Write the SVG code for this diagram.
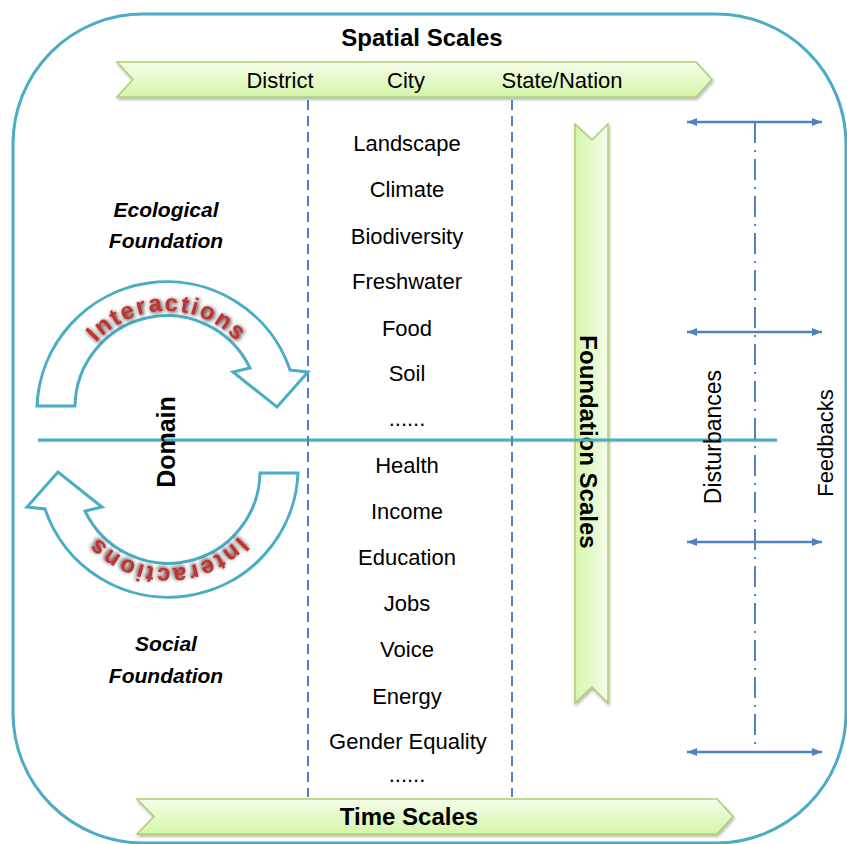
<svg xmlns="http://www.w3.org/2000/svg" xmlns:xlink="http://www.w3.org/1999/xlink" width="847" height="844" viewBox="0 0 847 844">
<style>
  .lbl { font-family: "Liberation Sans", Arial, sans-serif; fill: #000; }
  .item { font-size: 22px; text-anchor: middle; }
  .scale { font-size: 22px; text-anchor: middle; }
  .title { font-size: 24px; font-weight: bold; text-anchor: middle; }
  .found { font-size: 21px; font-weight: bold; font-style: italic; text-anchor: middle; }
  .rib { stroke: #a9cf72; stroke-width: 1.5; stroke-linejoin: miter; }
  .vdash { stroke: #4f81bd; stroke-width: 2; stroke-dasharray: 10 6; fill: none; }
  .dblarrow { stroke: #4f81bd; stroke-width: 2.5; marker-start: url(#ah); marker-end: url(#ah); }
  .curve { fill: #fff; stroke: #4bacc6; stroke-width: 3; stroke-linejoin: miter; }
  .inter { font-family: "Liberation Sans", Arial, sans-serif; font-size: 24px; font-weight: bold; fill: #c0302f; letter-spacing: 2px; }
</style>
<defs>
  <linearGradient id="gH" x1="0" y1="0" x2="0" y2="1">
    <stop offset="0" stop-color="#f4fdea"/>
    <stop offset="1" stop-color="#d6f5a9"/>
  </linearGradient>
  <linearGradient id="gV" x1="0" y1="0" x2="1" y2="0">
    <stop offset="0" stop-color="#d6f5a9"/>
    <stop offset="1" stop-color="#f4fdea"/>
  </linearGradient>
  <filter id="shd" x="-10%" y="-20%" width="120%" height="150%">
    <feDropShadow dx="1" dy="2" stdDeviation="1.5" flood-color="#000" flood-opacity="0.3"/>
  </filter>
  <filter id="glow" x="-20%" y="-40%" width="140%" height="180%">
    <feGaussianBlur in="SourceAlpha" stdDeviation="2.2" result="b"/>
    <feOffset in="b" dx="1" dy="1" result="o"/>
    <feComponentTransfer in="o" result="s"><feFuncA type="linear" slope="0.9"/></feComponentTransfer>
    <feMerge><feMergeNode in="s"/><feMergeNode in="SourceGraphic"/></feMerge>
  </filter>
  <marker id="ah" viewBox="0 0 10 8" refX="10" refY="4" markerWidth="10" markerHeight="8" markerUnits="userSpaceOnUse" orient="auto-start-reverse">
    <path d="M0,0 L10,4 L0,8 z" fill="#4f81bd"/>
  </marker>
  <path id="arcText" d="M72,406 A95,95 0 0 1 262,406"/>
  <g id="curvedArrow">
    <path class="curve" d="M37,406 A130,130 0 0 1 290,370 L308,372 L277,407 L233,372 L250,368 A92,92 0 0 0 75,406 Z"/>
    <text class="inter" filter="url(#glow)"><textPath xlink:href="#arcText" startOffset="50%" text-anchor="middle">Interactions</textPath></text>
  </g>
</defs>

<g id="frame">
  <rect x="13" y="14" width="833" height="829" rx="130" ry="130" fill="#fff" stroke="#4bacc6" stroke-width="3"/>
</g>

<g id="spatial-scales">
  <text class="lbl title" x="422" y="46">Spatial  Scales</text>
  <path class="rib" fill="url(#gH)" filter="url(#shd)" d="M117,62 L696,62 L712,79.5 L696,97 L117,97 L133,79.5 Z"/>
  <text class="lbl scale" x="280" y="88">District</text>
  <text class="lbl scale" x="406" y="88">City</text>
  <text class="lbl scale" x="562" y="88">State/Nation</text>
</g>

<g id="time-scales">
  <path class="rib" fill="url(#gH)" filter="url(#shd)" d="M137,799 L717,799 L733,816.5 L717,834 L137,834 L154,816.5 Z"/>
  <text class="lbl title" x="409" y="825">Time  Scales</text>
</g>

<g id="foundation-scales">
  <path class="rib" fill="url(#gV)" filter="url(#shd)" d="M575,124 L592,140 L608,124 L608,703 L592,687 L575,703 Z"/>
  <text class="lbl" x="580" y="442" transform="rotate(90 580 442)" font-size="24" font-weight="bold" text-anchor="middle">Foundation  Scales</text>
</g>

<g id="connectors">
  <line x1="38" y1="441" x2="777" y2="441" stroke="#000" stroke-opacity="0.12" stroke-width="3"/>
  <line x1="38" y1="440" x2="777" y2="440" stroke="#4bacc6" stroke-width="3"/>
  <line class="vdash" x1="308" y1="100" x2="308" y2="797"/>
  <line class="vdash" x1="512" y1="100" x2="512" y2="797"/>
  <line x1="755" y1="122" x2="755" y2="752" stroke="#4f81bd" stroke-width="2" stroke-dasharray="21 7 2 7"/>
  <line class="dblarrow" x1="687" y1="122" x2="822" y2="122"/>
  <line class="dblarrow" x1="687" y1="332" x2="822" y2="332"/>
  <line class="dblarrow" x1="687" y1="542" x2="822" y2="542"/>
  <line class="dblarrow" x1="687" y1="752" x2="822" y2="752"/>
</g>

<g id="interactions-ecological">
  <use xlink:href="#curvedArrow"/>
</g>
<g id="interactions-social">
  <use xlink:href="#curvedArrow" transform="rotate(180 167.5 439.5)"/>
</g>

<g id="ecological-foundation">
  <text class="lbl found" x="166" y="217">Ecological</text>
  <text class="lbl found" x="166" y="248">Foundation</text>
</g>
<g id="social-foundation">
  <text class="lbl found" x="166" y="651">Social</text>
  <text class="lbl found" x="166" y="683">Foundation</text>
</g>
<g id="domain">
  <text class="lbl" x="175" y="442" transform="rotate(-90 175 442)" font-size="25" font-weight="bold" text-anchor="middle">Domain</text>
</g>

<g id="ecological-items">
  <text class="lbl item" x="407" y="151">Landscape</text>
  <text class="lbl item" x="407" y="197">Climate</text>
  <text class="lbl item" x="407" y="244">Biodiversity</text>
  <text class="lbl item" x="407" y="289">Freshwater</text>
  <text class="lbl item" x="407" y="336">Food</text>
  <text class="lbl item" x="407" y="381">Soil</text>
  <text class="lbl item" x="407" y="426">......</text>
</g>
<g id="social-items">
  <text class="lbl item" x="407" y="473">Health</text>
  <text class="lbl item" x="407" y="519">Income</text>
  <text class="lbl item" x="407" y="565">Education</text>
  <text class="lbl item" x="407" y="611">Jobs</text>
  <text class="lbl item" x="407" y="657">Voice</text>
  <text class="lbl item" x="407" y="704">Energy</text>
  <text class="lbl item" x="408" y="749">Gender Equality</text>
  <text class="lbl item" x="407" y="782">......</text>
</g>

<g id="disturbances">
  <text class="lbl" x="721" y="437" transform="rotate(-90 721 437)" font-size="23" text-anchor="middle">Disturbances</text>
</g>
<g id="feedbacks">
  <text class="lbl" x="833" y="443" transform="rotate(-90 833 443)" font-size="22" text-anchor="middle">Feedbacks</text>
</g>
</svg>
